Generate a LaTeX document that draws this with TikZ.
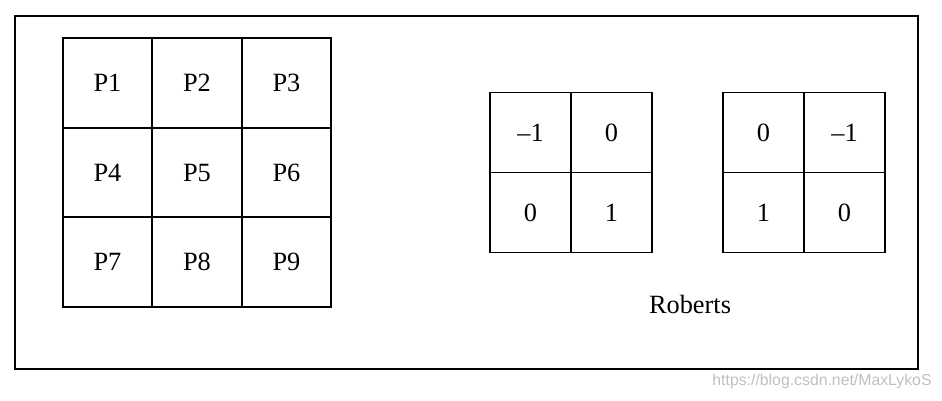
\documentclass[tikz,border=0pt]{standalone}
\usepackage{fontspec}
\setmainfont{Liberation Serif}
\newfontfamily\wmfont{Liberation Sans}
\tikzset{
  pcell/.style={draw, line width=1pt, minimum width=1.79cm, minimum height=1.79cm,
    inner sep=0pt, text height=10pt, text depth=0pt, font=\fontsize{15}{17}\selectfont},
  kcell/.style={draw, line width=1pt, minimum width=1.62cm, minimum height=1.6cm,
    inner sep=0pt, text height=10pt, text depth=0pt, font=\fontsize{15}{17}\selectfont}
}
\begin{document}
\begin{tikzpicture}[x=0.02cm,y=-0.02cm]
      \useasboundingbox (0,0) rectangle (942,401);
      \draw[line width=1pt] (15,16) rectangle (918,369);
      % 3x3 neighbourhood
      \path
        (107.5,83) node[pcell] (p1){P1}
        (197,83) node[pcell] (p2){P2}
        (286.5,83) node[pcell] (p3){P3}
        (107.5,172.5) node[pcell] (p4){P4}
        (197,172.5) node[pcell] (p5){P5}
        (286.5,172.5) node[pcell] (p6){P6}
        (107.5,262) node[pcell] (p7){P7}
        (197,262) node[pcell] (p8){P8}
        (286.5,262) node[pcell] (p9){P9};
      % Roberts kernels
      \path
        (530.5,132.5) node[kcell] (a11){\textendash1}
        (611.5,132.5) node[kcell] (a12){0}
        (530.5,212.5) node[kcell] (a21){0}
        (611.5,212.5) node[kcell] (a22){1};
      \path
        (763.5,132.5) node[kcell] (b11){0}
        (844.5,132.5) node[kcell] (b12){\textendash1}
        (763.5,212.5) node[kcell] (b21){1}
        (844.5,212.5) node[kcell] (b22){0};
      \node[font=\fontsize{15}{17}\selectfont] (name) at (690,304) {Roberts};
      \node[font=\wmfont\fontsize{9}{11}\selectfont, text=black!25] (wm) at (822,381)
        {https://blog.csdn.net/MaxLykoS};
    \end{tikzpicture}
\end{document}
